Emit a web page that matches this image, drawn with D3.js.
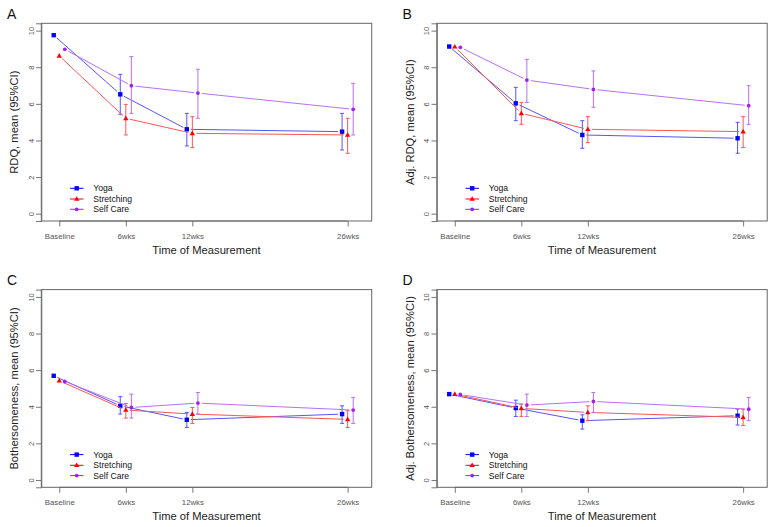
<!DOCTYPE html>
<html><head><meta charset="utf-8">
<script src="https://cdn.jsdelivr.net/npm/d3@7"></script>
<style>body{margin:0;background:#fff}svg{display:block}</style></head>
<body><svg id="c" width="774" height="527"></svg>
<script>
// ---- data ----
const weeks = [0, 6, 12, 26];
const tickLabels = ["Baseline", "6wks", "12wks", "26wks"];
const groups = ["Yoga", "Stretching", "Self Care"];
const yTicks = [0, 2, 4, 6, 8, 10];

// A: RDQ
const rdqYoga     = [9.75, 6.52, 4.61, 4.48];
const rdqYogaLo   = [null, 5.43, 3.70, 3.48];
const rdqYogaHi   = [null, 7.61, 5.48, 5.48];
const rdqStretch  = [8.62, 5.21, 4.39, 4.30];
const rdqStretchLo= [null, 4.30, 3.61, 3.30];
const rdqStretchHi= [null, 5.97, 5.30, 5.21];
const rdqSelf     = [8.98, 6.99, 6.59, 5.70];
const rdqSelfLo   = [null, 5.48, 5.21, 4.30];
const rdqSelfHi   = [null, 8.58, 7.89, 7.12];
// B: Adj. RDQ
const adjRdqYoga     = [9.13, 6.03, 4.30, 4.12];
const adjRdqYogaLo   = [null, 5.08, 3.57, 3.30];
const adjRdqYogaHi   = [null, 6.90, 5.08, 4.99];
const adjRdqStretch  = [9.12, 5.48, 4.61, 4.48];
const adjRdqStretchLo= [null, 4.88, 3.88, 3.61];
const adjRdqStretchHi= [null, 6.08, 5.30, 5.30];
const adjRdqSelf     = [9.09, 7.30, 6.79, 5.90];
const adjRdqSelfLo   = [null, 6.08, 5.81, 4.88];
const adjRdqSelfHi   = [null, 8.43, 7.80, 6.99];
// C: Bothersomeness
const bothYoga     = [5.69, 4.05, 3.29, 3.60];
const bothYogaLo   = [null, 3.60, 2.87, 3.09];
const bothYogaHi   = [null, 4.55, 3.69, 4.05];
const bothStretch  = [5.42, 3.82, 3.60, 3.31];
const bothStretchLo= [null, 3.38, 3.09, 2.87];
const bothStretchHi= [null, 4.18, 3.96, 3.78];
const bothSelf     = [5.38, 3.96, 4.20, 3.82];
const bothSelfLo   = [null, 3.38, 3.60, 3.09];
const bothSelfHi   = [null, 4.69, 4.78, 4.51];
// D: Adj. Bothersomeness
const adjBothYoga     = [4.69, 3.93, 3.24, 3.51];
const adjBothYogaLo   = [null, 3.47, 2.78, 3.00];
const adjBothYogaHi   = [null, 4.36, 3.56, 3.87];
const adjBothStretch  = [4.69, 3.91, 3.69, 3.42];
const adjBothStretchLo= [null, 3.47, 3.24, 2.98];
const adjBothStretchHi= [null, 4.15, 4.05, 3.87];
const adjBothSelf     = [4.67, 4.09, 4.29, 3.87];
const adjBothSelfLo   = [null, 3.47, 3.69, 3.24];
const adjBothSelfHi   = [null, 4.69, 4.78, 4.51];

const panelLetters = ["A", "B", "C", "D"];
const yLabels = ["RDQ, mean (95%CI)", "Adj. RDQ, mean (95%CI)",
                 "Bothersomeness, mean (95%CI)", "Adj. Bothersomeness, mean (95%CI)"];

// ---- style / layout ----
const markColors = ["#0000ff", "#ff0000", "#a020f0"];
const lineColors = ["#5555ff", "#ff5555", "#b870f5"];
const dodge = [-0.5, 0, 0.5];
const panelOffsets = [[0, 0], [395.5, 0], [0, 266.3], [395.5, 266.3]];
const FONT = "'Liberation Sans', Arial, Helvetica, sans-serif";

const panelSeries = [
  [[rdqYoga, rdqYogaLo, rdqYogaHi], [rdqStretch, rdqStretchLo, rdqStretchHi], [rdqSelf, rdqSelfLo, rdqSelfHi]],
  [[adjRdqYoga, adjRdqYogaLo, adjRdqYogaHi], [adjRdqStretch, adjRdqStretchLo, adjRdqStretchHi], [adjRdqSelf, adjRdqSelfLo, adjRdqSelfHi]],
  [[bothYoga, bothYogaLo, bothYogaHi], [bothStretch, bothStretchLo, bothStretchHi], [bothSelf, bothSelfLo, bothSelfHi]],
  [[adjBothYoga, adjBothYogaLo, adjBothYogaHi], [adjBothStretch, adjBothStretchLo, adjBothStretchHi], [adjBothSelf, adjBothSelfLo, adjBothSelfHi]]
];

const svg = d3.select("#c");

function marker(g, k, cx, cy, color) {
  if (k === 0) {
    g.append("rect").attr("x", cx - 2.2).attr("y", cy - 2.2).attr("width", 4.4).attr("height", 4.4).attr("fill", color);
  } else if (k === 1) {
    const s = 2.8;
    g.append("path").attr("d", `M${cx},${cy - s}L${cx + s * 0.95},${cy + s * 0.65}L${cx - s * 0.95},${cy + s * 0.65}Z`).attr("fill", color);
  } else {
    g.append("circle").attr("cx", cx).attr("cy", cy).attr("r", 1.9).attr("fill", color);
  }
}

panelSeries.forEach((series, p) => {
  const [ox, oy] = panelOffsets[p];
  const g = svg.append("g").attr("transform", `translate(${ox},${oy})`);
  const L = 41.3, R = 371.7, T = 23.3, B = 221;
  const x = d3.scaleLinear().domain([-1.62, 28.17]).range([L, R]);
  const y = d3.scaleLinear().domain([-0.4, 10.4]).range([B, T]);

  // x axis
  const xAxis = d3.axisBottom(x).tickValues(weeks).tickFormat((d, i) => tickLabels[i]).tickSize(5.5).tickPadding(6);
  const gx = g.append("g").attr("transform", `translate(0,${B})`).call(xAxis);
  gx.select(".domain").attr("stroke", "#777").attr("d", `M${x(0)},0H${x(26)}`);
  gx.selectAll(".tick line").attr("stroke", "#777");
  gx.selectAll(".tick text").attr("fill", "#555").attr("font-size", 7.8).attr("font-family", FONT).attr("dy", "0.71em").attr("y", 12);

  // y axis
  const yAxis = d3.axisLeft(y).tickValues(yTicks).tickSize(5.3).tickFormat(d3.format("d"));
  const gy = g.append("g").attr("transform", `translate(${L},0)`).call(yAxis);
  gy.select(".domain").attr("stroke", "#777");
  gy.selectAll(".tick line").attr("stroke", "#777");
  gy.selectAll(".tick text").attr("fill", "#555").attr("font-size", 7.5).attr("font-family", FONT)
    .attr("x", null).attr("dy", null).attr("text-anchor", "middle")
    .attr("transform", "translate(-7.8,0) rotate(-90)");

  // box
  g.append("rect").attr("x", L).attr("y", T).attr("width", R - L).attr("height", B - T)
    .attr("fill", "none").attr("stroke", "#666").attr("stroke-width", 1);

  // labels
  g.append("text").attr("x", (L + R) / 2).attr("y", 253.5).attr("text-anchor", "middle")
    .attr("font-size", 11.2).attr("font-family", FONT).attr("fill", "#222").text("Time of Measurement");
  g.append("text").attr("transform", `translate(18,${(T + B) / 2}) rotate(-90)`).attr("text-anchor", "middle")
    .attr("font-size", 11.2).attr("font-family", FONT).attr("fill", "#222").text(yLabels[p]);
  g.append("text").attr("x", 7).attr("y", 18.5).attr("font-size", 14).attr("font-family", FONT)
    .attr("fill", "#111").text(panelLetters[p]);

  // series
  series.forEach(([mean, lo, hi], k) => {
    const pts = weeks.map((w, i) => [x(w + dodge[k]), y(mean[i])]);
    // lines with gaps (type "b")
    const gap = 4;
    for (let i = 0; i < pts.length - 1; i++) {
      const [x1, y1] = pts[i], [x2, y2] = pts[i + 1];
      const len = Math.hypot(x2 - x1, y2 - y1);
      if (len <= 2 * gap) continue;
      const ux = (x2 - x1) / len, uy = (y2 - y1) / len;
      g.append("line").attr("x1", x1 + ux * gap).attr("y1", y1 + uy * gap)
        .attr("x2", x2 - ux * gap).attr("y2", y2 - uy * gap)
        .attr("stroke", lineColors[k]).attr("stroke-width", 1);
    }
    // error bars
    weeks.forEach((w, i) => {
      if (lo[i] == null) return;
      const cx = x(w + dodge[k]);
      const y1 = y(lo[i]), y2 = y(hi[i]);
      g.append("line").attr("x1", cx).attr("x2", cx).attr("y1", y1).attr("y2", y2)
        .attr("stroke", lineColors[k]).attr("stroke-width", 1);
      [y1, y2].forEach(yy => g.append("line").attr("x1", cx - 2).attr("x2", cx + 2).attr("y1", yy).attr("y2", yy)
        .attr("stroke", lineColors[k]).attr("stroke-width", 1));
    });
    pts.forEach(([cx, cy]) => marker(g, k, cx, cy, markColors[k]));
  });

  // legend
  const rowY = [188.3, 199, 209.3];
  groups.forEach((name, k) => {
    const ly = rowY[k];
    g.append("line").attr("x1", 70).attr("x2", 83.5).attr("y1", ly).attr("y2", ly)
      .attr("stroke", markColors[k]).attr("stroke-width", 1);
    marker(g, k, 76.7, ly, markColors[k]);
    g.append("text").attr("x", 93.3).attr("y", ly).attr("dy", "0.35em").attr("font-size", 8.6)
      .attr("font-family", FONT).attr("fill", "#111").text(name);
  });
});
</script>
</body></html>
